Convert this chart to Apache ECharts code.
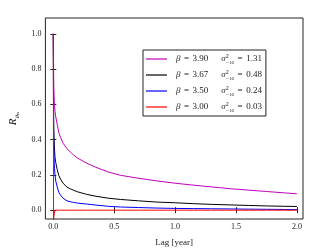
<!DOCTYPE html>
<html>
<head>
<meta charset="utf-8">
<script src="https://cdn.jsdelivr.net/npm/echarts@6/dist/echarts.min.js"></script>
<style>html,body{margin:0;padding:0;background:#fff;}#c{width:336px;height:252px;}</style>
</head>
<body>
<div id="c"></div>
<script>
// ---- data ----
const lags = [0, 0.002, 0.004, 0.008, 0.01, 0.014, 0.02, 0.032, 0.045, 0.059, 0.08, 0.112, 0.14, 0.166, 0.2, 0.273, 0.35, 0.45, 0.55, 0.7, 0.85, 1.0, 1.15, 1.3, 1.45, 1.6, 1.75, 1.9, 2.0];
const rMagenta = [1.0, 0.80, 0.70, 0.615, 0.595, 0.56, 0.53, 0.486, 0.44, 0.413, 0.38, 0.349, 0.33, 0.313, 0.295, 0.267, 0.243, 0.217, 0.198, 0.181, 0.166, 0.153, 0.142, 0.132, 0.122, 0.114, 0.106, 0.098, 0.093];
const rBlack   = [1.0, 0.60, 0.46, 0.37, 0.34, 0.30, 0.27, 0.23, 0.197, 0.176, 0.153, 0.131, 0.121, 0.113, 0.104, 0.09, 0.079, 0.068, 0.061, 0.053, 0.046, 0.042, 0.037, 0.033, 0.03, 0.027, 0.024, 0.022, 0.021];
const rBlue    = [1.0, 0.50, 0.36, 0.26, 0.235, 0.20, 0.165, 0.132, 0.102, 0.086, 0.068, 0.053, 0.048, 0.044, 0.04, 0.035, 0.029, 0.022, 0.018, 0.015, 0.012, 0.01, 0.009, 0.008, 0.007, 0.006, 0.005, 0.004, 0.003];
const rRed     = [1.0, -0.06, -0.04, -0.02, -0.01, 0.0, 0.0, 0.0, 0.0, 0.0, 0.0, 0.0, 0.0, 0.0, 0.0, 0.0, 0.0, 0.0, 0.0, 0.0, 0.0, 0.0, 0.0, 0.0, 0.0, 0.0, 0.0, 0.0, 0.0];
const betas  = ['3.90', '3.67', '3.50', '3.00'];
const sigmas = ['1.31', '0.48', '0.24', '0.03'];
const xTicks = [0, 0.5, 1.0, 1.5, 2.0];
const yTicks = [0, 0.2, 0.4, 0.6, 0.8, 1.0];
// ---------------

const colors = ['#bf00bf', '#000000', '#0000ff', '#ff0000'];
const allSeries = [rMagenta, rBlack, rBlue, rRed];
const FONT = '"Liberation Serif", "DejaVu Serif", serif';

function pairs(ys) { return lags.map((x, i) => [x, ys[i]]); }

const names = betas.map((b, i) => 'k' + i);

const chart = echarts.init(document.getElementById('c'), null, {renderer: 'canvas'});
const xCommon = {
  type: 'value', min: -0.065, max: 2.05,
  axisLine: {show: false}, splitLine: {show: false},
  axisTick: {show: true, inside: true, length: 3, customValues: xTicks, lineStyle: {color: '#222', width: 1}},
};
const yCommon = {
  type: 'value', min: -0.05, max: 1.09,
  axisLine: {show: false}, splitLine: {show: false},
  axisTick: {show: true, inside: true, length: 3, customValues: yTicks, lineStyle: {color: '#222', width: 1}},
};
chart.setOption({
  animation: false,
  backgroundColor: '#fff',
  grid: {left: 40, right: 33, top: 18, bottom: 26, containLabel: false, show: true, borderColor: '#222', borderWidth: 1, backgroundColor: 'transparent'},
  xAxis: [
    Object.assign({}, xCommon, {
      position: 'bottom',
      name: 'Lag [year]', nameLocation: 'middle', nameGap: 19,
      nameTextStyle: {fontFamily: FONT, fontSize: 9, color: '#222'},
      axisLabel: {customValues: xTicks, formatter: v => v.toFixed(1), fontFamily: FONT, fontSize: 8, color: '#222', margin: 4},
    }),
    Object.assign({}, xCommon, {position: 'top', axisLabel: {show: false}})
  ],
  yAxis: [
    Object.assign({}, yCommon, {
      position: 'left',
      name: '{r|R}{s|θ}{t|ts}', nameLocation: 'middle', nameGap: 22, nameRotate: 90,
      nameTextStyle: {
        fontFamily: FONT, color: '#222',
        rich: {
          r: {fontSize: 11, fontStyle: 'italic', fontFamily: FONT, lineHeight: 14, verticalAlign: 'middle'},
          s: {fontSize: 7, fontStyle: 'italic', fontFamily: FONT, lineHeight: 9, verticalAlign: 'bottom'},
          t: {fontSize: 5, fontStyle: 'italic', fontFamily: FONT, lineHeight: 6, verticalAlign: 'bottom'}
        }
      },
      axisLabel: {customValues: yTicks, formatter: v => v.toFixed(1), fontFamily: FONT, fontSize: 8, color: '#222', margin: 4},
    }),
    Object.assign({}, yCommon, {position: 'right', axisLabel: {show: false}})
  ],
  legend: {
    show: true, orient: 'vertical', left: 143, top: 50,
    padding: [3, 4, 3, 3],
    icon: 'rect',
    itemWidth: 21, itemHeight: 1.2, itemGap: 4,
    borderColor: '#222', borderWidth: 1, backgroundColor: '#fff',
    data: names,
    formatter: function (n) {
      const i = names.indexOf(n);
      return '{g|}{it|β}{eq|=}{a|' + betas[i] + '}{gap|}{it|σ}{sup|2}{sub|−16}{eq|=}{a|' + sigmas[i] + '}';
    },
    textStyle: {
      fontFamily: FONT, fontSize: 9, color: '#222',
      rich: {
        g: {width: 4},
        gap: {width: 13},
        it: {fontFamily: FONT, fontSize: 9, fontStyle: 'italic', lineHeight: 12, color: '#222'},
        eq: {fontFamily: FONT, fontSize: 9, lineHeight: 12, color: '#222', padding: [0, 3.5, 0, 3.5]},
        a: {fontFamily: FONT, fontSize: 9, lineHeight: 12, color: '#222'},
        sup: {fontFamily: FONT, fontSize: 6, lineHeight: 6, verticalAlign: 'top', width: 0.5, color: '#222'},
        sub: {fontFamily: FONT, fontSize: 5, lineHeight: 6, verticalAlign: 'bottom', color: '#222'}
      }
    }
  },
  series: allSeries.map((ys, i) => ({
    name: names[i], type: 'line', data: pairs(ys),
    xAxisIndex: 0, yAxisIndex: 0,
    symbol: 'none', showSymbol: false, clip: true,
    lineStyle: {color: colors[i], width: 1},
    itemStyle: {color: colors[i]},
    z: 2 + i
  }))
});
</script>
</body>
</html>
